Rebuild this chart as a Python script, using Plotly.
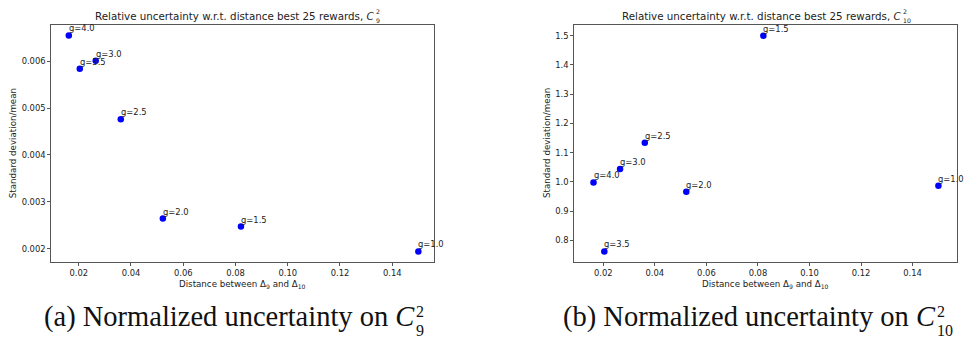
import plotly.graph_objects as go

# g values and measurements
g_labels = ["g=4.0", "g=3.5", "g=3.0", "g=2.5", "g=2.0", "g=1.5", "g=1.0"]
distance = [0.0162, 0.0204, 0.0265, 0.0361, 0.0522, 0.0821, 0.1500]
rel_unc_c9 = [0.00655, 0.00584, 0.00601, 0.00476, 0.00264, 0.00247, 0.00194]
rel_unc_c10 = [0.998, 0.762, 1.044, 1.134, 0.966, 1.500, 0.987]

W, H = 965, 338
FONT = "DejaVu Sans"
TXT = "#222222"
AX = "#555555"
SERIF = "Liberation Serif"
CAP = "#111111"


def px(x):
    return x / W


def py(y):
    return 1 - y / H


fig = go.Figure()

panels = [
    dict(xa="x", ya="y", vals=rel_unc_c9, x0=51.3, x1=433.5,
         xr=[0.0095, 0.1558], yr=[0.00172, 0.00678],
         ydt=0.001, yfmt=".3f", sub="9",
         title_end=376, ylab_x=13, cap_end=416, cap="(a)"),
    dict(xa="x2", ya="y2", vals=rel_unc_c10, x0=574.3, x1=956.7,
         xr=[0.00875, 0.1571], yr=[0.7268, 1.5376],
         ydt=0.1, yfmt=".1f", sub="10",
         title_end=903, ylab_x=546.7, cap_end=936.5, cap="(b)"),
]

y_top, y_bot = 24.7, 261.7
annotations = []


def note(x, y, text, size, family=FONT, color=TXT, xanchor="center",
         yanchor="middle", **kw):
    annotations.append(dict(
        x=x, y=y, xref=kw.pop("xref", "paper"), yref=kw.pop("yref", "paper"),
        text=text, showarrow=False, xanchor=xanchor, yanchor=yanchor,
        font=dict(family=family, size=size, color=color), **kw))


for i, p in enumerate(panels):
    fig.add_trace(go.Scatter(
        x=distance, y=p["vals"], mode="markers",
        marker=dict(color="#0000ff", size=6.5, line=dict(width=0)),
        xaxis=p["xa"], yaxis=p["ya"], showlegend=False,
    ))
    suffix = "" if i == 0 else "2"
    axis_common = dict(
        showgrid=False, zeroline=False, showline=True, mirror=True,
        linecolor=AX, linewidth=1, ticks="outside", ticklen=3,
        tickcolor=AX, tickwidth=1,
        tickfont=dict(family=FONT, size=8.4, color=TXT),
    )
    fig.update_layout(**{
        "xaxis" + suffix: dict(
            domain=[px(p["x0"]), px(p["x1"])], range=p["xr"],
            anchor="y" + suffix, tick0=0, dtick=0.02, tickformat=".2f",
            **axis_common),
        "yaxis" + suffix: dict(
            domain=[py(y_bot), py(y_top)], range=p["yr"],
            anchor="x" + suffix, tick0=0, dtick=p["ydt"],
            tickformat=p["yfmt"], **axis_common),
    })

    # point labels
    for lab, xv, yv in zip(g_labels, distance, p["vals"]):
        note(xv, yv, lab, 8.4, xanchor="left", yanchor="bottom",
             xref=p["xa"], yref=p["ya"], xshift=-1, yshift=1, borderpad=0)

    # title with stacked sub/superscript
    te = px(p["title_end"])
    note(te, py(15.7),
         "Relative uncertainty w.r.t. distance best 25 rewards, <i>C</i>",
         10.3, xanchor="right", borderpad=0)
    note(te, py(16), "2", 6.2, xanchor="left", yanchor="bottom",
         borderpad=0, xshift=-1)
    note(te, py(16), p["sub"], 6.2, xanchor="left", yanchor="top",
         borderpad=0, xshift=-1)

    # axis labels
    note(px((p["x0"] + p["x1"]) / 2), py(284),
         "Distance between Δ<sub>9</sub> and Δ<sub>10</sub>", 8.7)
    note(px(p["ylab_x"]), py((y_top + y_bot) / 2),
         "Standard deviation/mean", 8.7, textangle=-90)

    # caption below the panel
    ce = px(p["cap_end"])
    note(ce, py(317), p["cap"] + " Normalized uncertainty on <i>C</i>",
         28.5, family=SERIF, color=CAP, xanchor="right", borderpad=0)
    note(ce, py(320.5), "2", 16, family=SERIF, color=CAP, xanchor="left",
         yanchor="bottom", borderpad=0, xshift=-1)
    note(ce, py(320.5), p["sub"], 16, family=SERIF, color=CAP,
         xanchor="left", yanchor="top", borderpad=0, xshift=-1)

fig.update_layout(
    width=W, height=H, margin=dict(l=0, r=0, t=0, b=0),
    paper_bgcolor="white", plot_bgcolor="white",
    annotations=annotations,
)

fig.write_html("out.html")
